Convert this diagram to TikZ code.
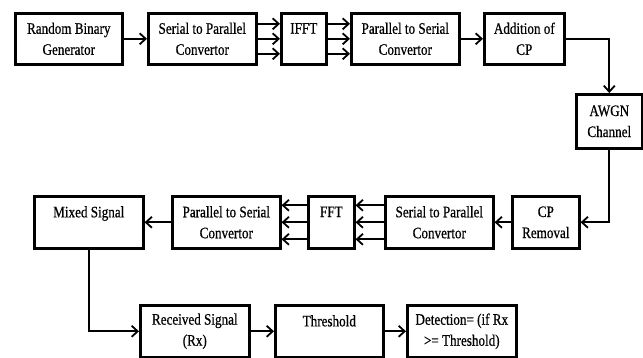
\documentclass[tikz,border=0pt]{standalone}
\usepackage{fontspec}
\setmainfont{Liberation Serif}[FakeStretch=0.82,FakeBold=0.6]
\usetikzlibrary{arrows.meta}
\begin{document}
\begin{tikzpicture}[x=1pt,y=-1pt,
  box/.style={draw, line width=2.6pt, align=center, inner sep=0pt, anchor=north west,
    font=\fontsize{16}{21}\selectfont},
  conn/.style={line width=2.2pt, -{Straight Barb[length=6pt,width=11pt,line width=1.8pt]}},
]
\useasboundingbox (0,0) rectangle (643,358);
% top row
\node[box, minimum width=107pt, minimum height=51pt] (rbg) at (14,12) {Random Binary\\Generator};
\node[box, minimum width=108pt, minimum height=51pt] (sp1) at (147,12) {Serial to Parallel\\Convertor};
\node[box, minimum width=45pt, minimum height=51pt] (ifft) at (280,12) {IFFT\\\mbox{}};
\node[box, minimum width=108pt, minimum height=51pt] (ps1) at (350,12) {Parallel to Serial\\Convertor};
\node[box, minimum width=80pt, minimum height=51pt] (acp) at (483,12) {Addition of\\CP};
% channel
\node[box, minimum width=66pt, minimum height=54pt] (awgn) at (575,93) {AWGN\\Channel};
% middle row
\node[box, minimum width=109pt, minimum height=52pt] (mix) at (33,195) {Mixed Signal\\\mbox{}};
\node[box, minimum width=108pt, minimum height=52pt] (ps2) at (171,195) {Parallel to Serial\\Convertor};
\node[box, minimum width=46pt, minimum height=52pt] (fft) at (307,195) {FFT\\\mbox{}};
\node[box, minimum width=108pt, minimum height=52pt] (sp2) at (384,195) {Serial to Parallel\\Convertor};
\node[box, minimum width=67pt, minimum height=52pt] (cpr) at (511,195) {CP\\Removal};
% bottom row
\node[box, minimum width=109pt, minimum height=52pt] (rx) at (139,304) {Received Signal\\(Rx)};
\node[box, minimum width=108pt, minimum height=52pt] (thr) at (274,304) {Threshold\\\mbox{}};
\node[box, minimum width=109pt, minimum height=52pt] (det) at (406,304) {Detection= (if Rx\\>= Threshold)};
% connectors
\draw[conn] (rbg) -- (sp1);
\foreach \s in {15,0,-15}{
  \draw[conn] ([yshift=\s pt]sp1.east) -- ([yshift=\s pt]ifft.west);
  \draw[conn] ([yshift=\s pt]ifft.east) -- ([yshift=\s pt]ps1.west);
}
\draw[conn] (ps1) -- (acp);
\draw[conn] (acp.east) -| (awgn.north);
\draw[conn] (awgn.south) |- (cpr.east);
\draw[conn] (cpr) -- (sp2);
\foreach \s in {17,0,-17}{
  \draw[conn] ([yshift=\s pt]sp2.west) -- ([yshift=\s pt]fft.east);
  \draw[conn] ([yshift=\s pt]fft.west) -- ([yshift=\s pt]ps2.east);
}
\draw[conn] (ps2) -- (mix);
\draw[conn] (mix.south) |- (rx.west);
\draw[conn] (rx) -- (thr);
\draw[conn] (thr) -- (det);
\end{tikzpicture}
\end{document}
